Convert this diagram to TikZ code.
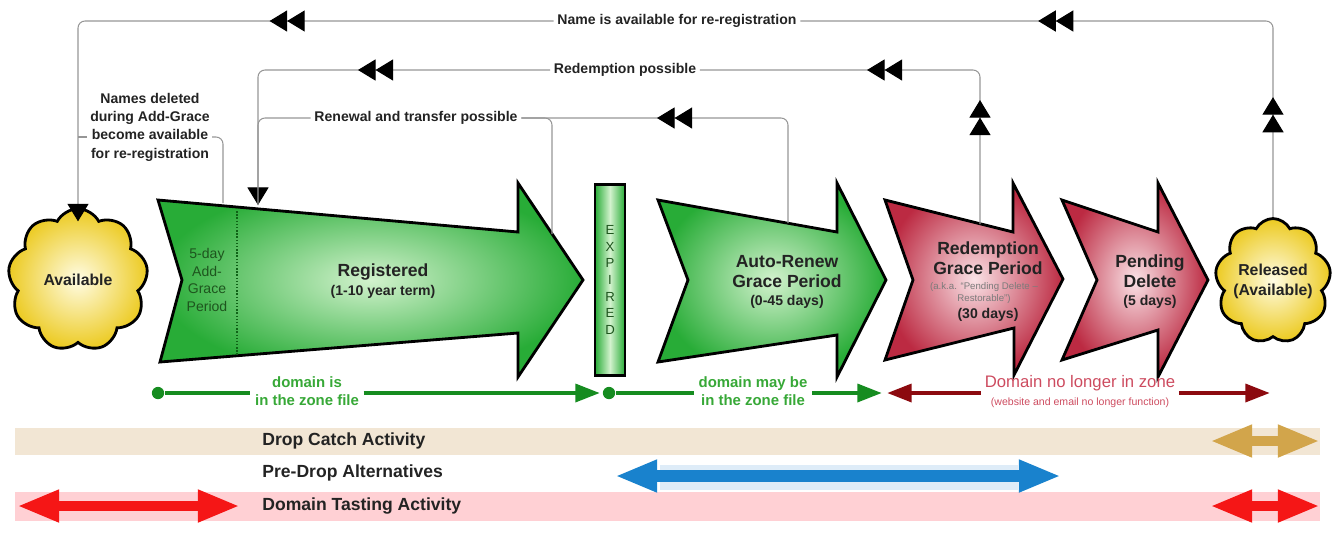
\documentclass[tikz,border=0pt]{standalone}
\usepackage{fontspec}
\setmainfont{Liberation Sans}
\usetikzlibrary{arrows.meta,positioning,calc,shapes.symbols,decorations.markings}
\definecolor{RegGreen}{RGB}{40,172,55}
\definecolor{RegLight}{RGB}{210,242,205}
\definecolor{RdpRed}{RGB}{188,42,66}
\definecolor{RdpLight}{RGB}{250,226,230}
\definecolor{CloudYel}{RGB}{236,202,32}
\definecolor{CloudLight}{RGB}{255,252,228}
\definecolor{ZoneGreen}{RGB}{22,140,32}
\definecolor{ZoneText}{RGB}{55,168,55}
\definecolor{ZoneRed}{RGB}{140,10,15}
\definecolor{ZoneRedText}{RGB}{205,75,95}
\definecolor{CatchBand}{RGB}{242,230,212}
\definecolor{CatchGold}{RGB}{210,165,75}
\definecolor{TasteBand}{RGB}{255,208,212}
\definecolor{TasteRed}{RGB}{245,22,22}
\definecolor{AltBlue}{RGB}{25,130,205}
\definecolor{AltLight}{RGB}{222,236,248}
\definecolor{InkDark}{RGB}{35,35,35}
\definecolor{GraceInk}{RGB}{30,85,30}
\definecolor{ConnGray}{RGB}{150,150,150}
\tikzset{
  ConnTip/.tip={Triangle[length=10pt,width=12pt,color=black]},
  ZoneTip/.tip={Triangle[length=14pt,width=10pt]},
  FatTip/.tip={Triangle[length=24pt,width=17pt]}
}

\begin{document}
\begin{tikzpicture}[x=0.02cm,y=-0.02cm,
  conn/.style={draw=ConnGray,line width=0.6pt,rounded corners=0.14cm},
  dbl/.style={postaction={decorate,decoration={markings,mark=at position #1 with {\arrow{ConnTip[sep=0pt] ConnTip}}}}},
  connlbl/.style={text=InkDark,inner sep=2pt,font=\fontsize{8}{10.4}\selectfont\bfseries},
  greenarr/.style={draw=black,line width=1.6pt,inner color=RegLight,outer color=RegGreen},
  redarr/.style={draw=black,line width=1.6pt,inner color=RdpLight,outer color=RdpRed},
  cloudy/.style={cloud,cloud puffs=9,cloud puff arc=125,cloud ignores aspect,draw=black,line width=1.6pt,
    inner color=CloudLight,outer color=CloudYel,align=center,text=InkDark,font=\fontsize{9}{11.4}\selectfont\bfseries},
  expbox/.style={draw=black,line width=1.6pt,left color=RegGreen,right color=RegGreen,middle color=RegLight,
    minimum width=0.6cm,minimum height=3.82cm,inner sep=0pt,align=center,text=GraceInk,font=\fontsize{7.5}{9.5}\selectfont},
  stagetitle/.style={align=center,text=InkDark,font=\fontsize{10}{11.4}\selectfont\bfseries},
  stagesub/.style={align=center,text=InkDark,font=\fontsize{8}{10}\selectfont\bfseries},
  gracetxt/.style={align=center,text=GraceInk,font=\fontsize{8}{10}\selectfont},
  akatxt/.style={align=center,text=InkDark!60,font=\fontsize{5.5}{6.8}\selectfont},
  zdot/.style={circle,fill=ZoneGreen,inner sep=0pt,minimum size=7pt},
  zgreen/.style={draw=ZoneGreen,line width=2.6pt},
  zred/.style={draw=ZoneRed,line width=2.6pt},
  zonetxt/.style={align=center,text=ZoneText,inner sep=2.5pt,font=\fontsize{8.5}{10.2}\selectfont\bfseries},
  gonetxt/.style={text=ZoneRedText,inner sep=2pt,font=\fontsize{9.5}{11}\selectfont},
  gonesub/.style={text=ZoneRedText,inner sep=1pt,font=\fontsize{6}{7}\selectfont},
  acttxt/.style={anchor=west,inner sep=0pt,text=InkDark,font=\fontsize{10}{12}\selectfont\bfseries},
  fat/.style={line width=6pt,FatTip-FatTip}]
\useasboundingbox (0,0) rectangle (1335,532);

\fill[CatchBand] (15,428) rectangle (1320,455);
\fill[AltLight] (660,465) rectangle (1018,490);
\fill[TasteBand] (15,492) rectangle (1320,521);

\draw[greenarr] (158,200) -- (518,232) -- (518,183) -- (583,280) -- (518,377) -- (518,333) -- (160,362) -- (182,280) -- cycle;
\draw[ZoneGreen!70!black,densely dotted,line width=0.8pt] (237,208) -- (237,355);
\node[expbox] (expired) at (610,280) {E\\X\\P\\I\\R\\E\\D};
\draw[greenarr] (658,200) -- (837,232) -- (837,183) -- (886,280) -- (837,377) -- (837,335) -- (658,362) -- (688,280) -- cycle;
\draw[redarr] (885,200) -- (1013,232) -- (1013,183) -- (1063,279) -- (1014,375) -- (1014,328) -- (885,360) -- (913,280) -- cycle;
\draw[redarr] (1062,200) -- (1158,232) -- (1158,183) -- (1208,280) -- (1158,377) -- (1158,330) -- (1062,360) -- (1097,280) -- cycle;
\node[cloudy,minimum width=2.8cm,minimum height=2.85cm] (avail) at (78,280) {Available};
\node[cloudy,inner sep=0pt,minimum width=2.0cm,minimum height=2.5cm] (released) at (1273,281) {Released\\(Available)};

\node[gracetxt] (addgrace) at (207,280) {5-day\\Add-\\Grace\\Period};
\node[stagetitle] (regname) at (383,272) {Registered};
\node[stagesub] (regterm) at (383,292) {(1-10 year term)};
\node[stagetitle] (argname) at (787,272) {Auto-Renew\\Grace Period};
\node[stagesub] (argterm) at (787,302) {(0-45 days)};
\node[stagetitle] (rgpname) at (988,258) {Redemption\\Grace Period};
\node[akatxt] (rgpaka) at (984,293) {(a.k.a. “Pending Delete –\\Restorable”)};
\node[stagesub] (rgpterm) at (988,315) {(30 days)};
\node[stagetitle] (pdname) at (1150,271) {Pending\\Delete};
\node[stagesub] (pdterm) at (1150,302) {(5 days)};

\coordinate (regtop) at (258,205); \coordinate (agtop) at (223,203); \coordinate (reghead) at (552,234);
\coordinate (argtop) at (788,223); \coordinate (rgptop) at (980,224);
\node[connlbl] (namelbl) at (677,21) {Name is available for re-registration};
\node[connlbl] (redlbl) at (625,70) {Redemption possible};
\node[connlbl] (renlbl) at (416,118) {Renewal and transfer possible};
\node[connlbl,align=center] (ndlbl) at (150,127) {Names deleted\\during Add-Grace\\become available\\for re-registration};
\coordinate (ndR) at (212,137); \coordinate (ndL) at (87,137);

\draw[conn,dbl=2.4cm,dbl=8.56cm] (released.north) |- (namelbl.east);
\draw[conn,dbl=-7.5cm,shorten >=-0.28cm,-ConnTip] (namelbl.west) -| (avail.north);
\draw[conn,dbl=2.48cm,dbl=5.28cm] (rgptop) |- (redlbl.east);
\draw[conn,dbl=-4.64cm,-ConnTip] (redlbl.west) -| (regtop);
\draw[conn,dbl=4.66cm] (argtop) |- (renlbl.east);
\draw[conn] (renlbl.west) -| (regtop);
\draw[conn] (reghead) |- (renlbl.east);
\draw[conn] (agtop) |- (ndR);
\draw[conn] (ndL) -- (ndL -| avail.north);

\node[zdot] (dotA) at (158,393) {};
\node[zdot] (dotB) at (609,393) {};
\coordinate (endA) at (600,393); \coordinate (endB) at (882,393);
\coordinate (goneL) at (887,393); \coordinate (goneR) at (1270,393);
\node[zonetxt] (zoneA) at (307,391) {domain is\\in the zone file};
\node[zonetxt] (zoneB) at (753,391) {domain may be\\in the zone file};
\node[gonetxt] (gone) at (1080,383) {Domain no longer in zone};
\node[gonesub] (gonesub) at (1080,403) {(website and email no longer function)};
\draw[zgreen] (dotA) -- (dotA -| zoneA.west);
\draw[zgreen,-ZoneTip] (zoneA.east |- dotA) -- (endA);
\draw[zgreen] (dotB) -- (dotB -| zoneB.west);
\draw[zgreen,-ZoneTip] (zoneB.east |- dotB) -- (endB);
\draw[zred,ZoneTip-] (goneL) -- (goneL -| gone.west);
\draw[zred,-ZoneTip] (gone.east |- goneR) -- (goneR);

\node[acttxt] (catch) at (262,441) {Drop Catch Activity};
\node[acttxt] (predrop) at (262,473) {Pre-Drop Alternatives};
\node[acttxt] (tasting) at (262,506) {Domain Tasting Activity};
\coordinate (catchL) at (1210,441); \coordinate (catchR) at (1320,441);
\coordinate (altL) at (615,476); \coordinate (altR) at (1061,476);
\coordinate (tasteL) at (17,506); \coordinate (tasteM) at (240,506);
\coordinate (tasteN) at (1210,506); \coordinate (tasteR) at (1320,506);
\draw[fat,CatchGold] (catchL) -- (catchR);
\draw[fat,AltBlue,line width=7pt] (altL) -- (altR);
\draw[fat,TasteRed] (tasteL) -- (tasteM);
\draw[fat,TasteRed] (tasteN) -- (tasteR);
\end{tikzpicture}
\end{document}
